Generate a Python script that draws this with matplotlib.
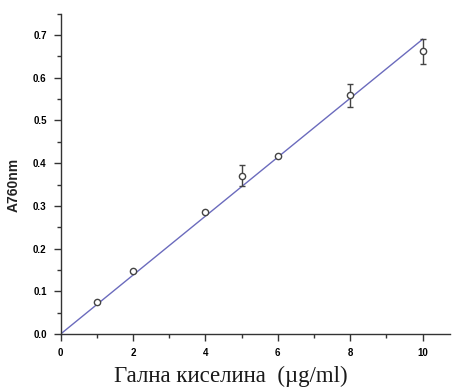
import matplotlib
matplotlib.use("Agg")
import matplotlib.pyplot as plt
import numpy as np
from matplotlib.ticker import MultipleLocator, FormatStrFormatter

conc = [1, 2, 4, 5, 6, 8, 10]
absorb = [0.074, 0.148, 0.285, 0.371, 0.417, 0.559, 0.662]
err = [0.0, 0.0, 0.0, 0.025, 0.0, 0.027, 0.029]
fit_x = [0, 10]
fit_y = [0.0, 0.69]

W, H = 459, 388
fig = plt.figure(figsize=(W / 100, H / 100), dpi=100)
ax = fig.add_axes([0.132, 0.139, 0.848, 0.826])

ax.plot(fit_x, fit_y, color="#6b6bbd", lw=1.0, zorder=2)
ax.errorbar(conc, absorb, yerr=err, fmt="o", mfc="white", mec="#444444",
            ms=4.5, mew=1.0, ecolor="#444444", elinewidth=1.0, capsize=2.5,
            capthick=1.0, zorder=3)

ax.set_xlim(0, 10.75)
ax.set_ylim(0, 0.75)
ax.xaxis.set_major_locator(MultipleLocator(2))
ax.xaxis.set_minor_locator(MultipleLocator(1))
ax.yaxis.set_major_locator(MultipleLocator(0.1))
ax.yaxis.set_minor_locator(MultipleLocator(0.05))
ax.yaxis.set_major_formatter(FormatStrFormatter("%.1f"))
ax.xaxis.set_major_formatter(FormatStrFormatter("%d"))
for s in ["top", "right"]:
    ax.spines[s].set_visible(False)
for s in ["left", "bottom"]:
    ax.spines[s].set_linewidth(1.0)
    ax.spines[s].set_color("#333333")
ax.tick_params(which="major", direction="out", length=5, width=1.0, color="#333333",
               labelsize=7, pad=5)
ax.tick_params(which="minor", direction="out", length=3, width=1.0, color="#333333")
for lab in ax.get_xticklabels() + ax.get_yticklabels():
    lab.set_fontweight("bold")
    lab.set_family("Liberation Sans")

fig.text(14 / W, 1 - 185 / H, "A760nm", rotation=90, ha="center", va="center",
         fontsize=10, fontweight="bold", family="Liberation Sans", color="#222222")
fig.text(231 / W, 1 - 382 / H, "Гална киселина  (µg/ml)", ha="center", va="baseline",
         fontsize=16.5, family="Liberation Serif", color="#1a1a1a")

fig.savefig("out.png", dpi=100)
